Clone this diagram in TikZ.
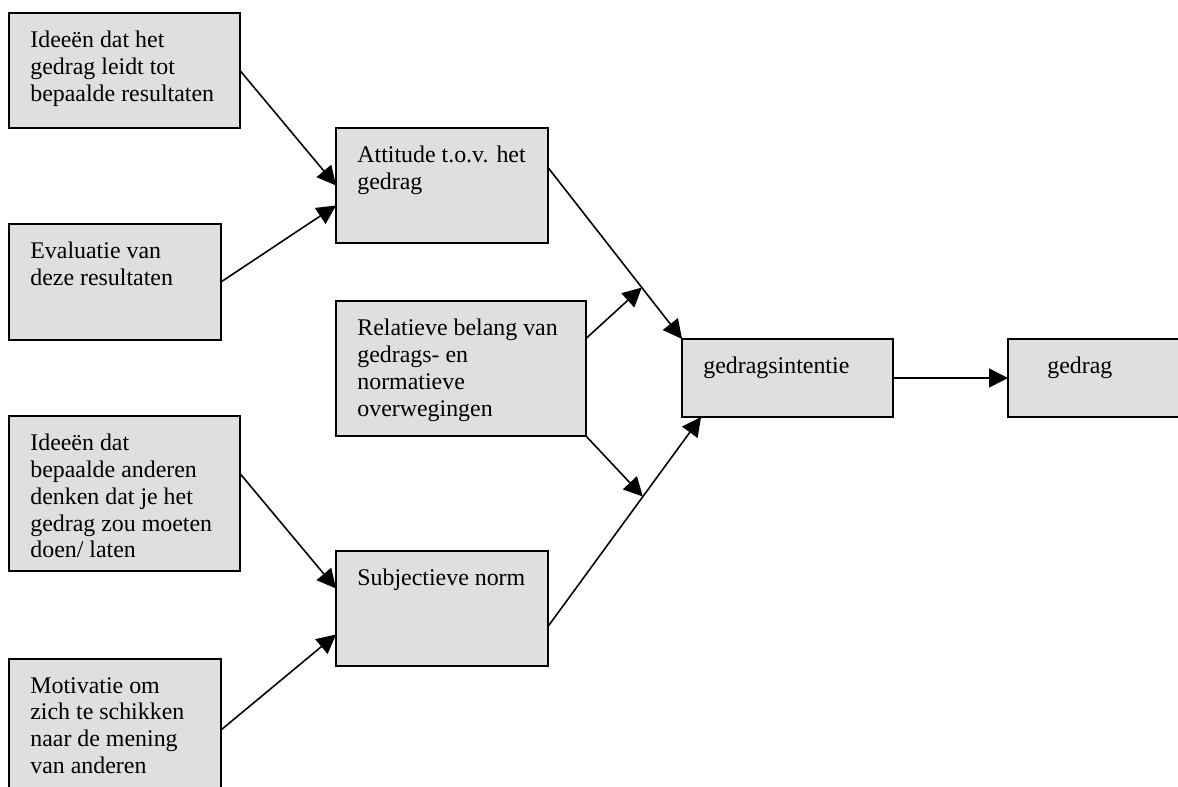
\documentclass[tikz,border=0pt]{standalone}
\usepackage{fontspec}
\setmainfont{Liberation Serif}
\usetikzlibrary{arrows.meta, positioning, calc}
\definecolor{boxgray}{RGB}{223,223,223}

\begin{document}
\begin{tikzpicture}[
    x=0.02cm, y=-0.02cm,
    box/.style={
        rectangle, draw=black, line width=1pt, fill=boxgray,
        inner sep=0pt, outer sep=0pt
    },
    txt/.style={
        anchor=north west, inner sep=0pt, align=left,
        xshift=0.42cm, yshift=-0.36cm,
        font=\fontsize{13.6}{15.2}\selectfont
    },
    arrow/.style={-{Triangle[length=0.38cm, width=0.38cm]}, line width=0.9pt}
]

\useasboundingbox (0,0) rectangle (1178,787);
\clip (0,0) rectangle (1178,787);

% --- Left column ---
\node[box, minimum width=4.62cm, minimum height=2.30cm,
    label={[txt]north west:{Ideeën dat het\\gedrag leidt tot\\bepaalde resultaten}}]
    (ideeres) at (124.5, 70.5) {};
\node[box, minimum width=4.24cm, minimum height=2.32cm,
    label={[txt]north west:{Evaluatie van\\deze resultaten}}]
    (evaluatie) at (115, 282) {};
\node[box, minimum width=4.62cm, minimum height=3.10cm,
    label={[txt]north west:{Ideeën dat\\bepaalde anderen\\denken dat je het\\gedrag zou moeten\\doen/ laten}}]
    (ideeanderen) at (124.5, 493.5) {};
\node[box, minimum width=4.24cm, minimum height=2.72cm,
    label={[txt]north west:{Motivatie om\\zich te schikken\\naar de mening\\van anderen}}]
    (motivatie) at (115, 727) {};

% --- Middle column ---
\node[box, minimum width=4.24cm, minimum height=2.30cm,
    label={[txt]north west:{Attitude t.o.v. het\\gedrag}}]
    (attitude) at (442, 185.5) {};
\node[box, minimum width=5.00cm, minimum height=2.70cm,
    label={[txt]north west:{Relatieve belang van\\gedrags- en\\normatieve\\overwegingen}}]
    (relbelang) at (461, 368.5) {};
\node[box, minimum width=4.24cm, minimum height=2.30cm,
    label={[txt]north west:{Subjectieve norm}}]
    (subjnorm) at (442, 608.5) {};

% --- Right side ---
\node[box, minimum width=4.22cm, minimum height=1.56cm,
    label={[txt]north west:{gedragsintentie}}]
    (intentie) at (787.5, 378) {};
\node[box, minimum width=3.54cm, minimum height=1.56cm,
    label={[txt, xshift=0.36cm]north west:{gedrag}}]
    (gedrag) at (1096.5, 378) {};

% --- Arrows into attitude and norm ---
\draw[arrow] (ideeres.east) -- (attitude.west);
\draw[arrow] (evaluatie.east) -- ($(attitude.west)+(0,20)$);
\draw[arrow] ($(ideeanderen.east)+(0,-20)$) -- ($(subjnorm.west)+(0,-20)$);
\draw[arrow] ($(motivatie.north east)+(0,71)$) -- ($(subjnorm.west)+(0,26)$);

% --- Arrows into intention ---
\coordinate (attout) at ($(attitude.east)+(0,-18)$);
\coordinate (subjout) at ($(subjnorm.east)+(0,18)$);
\coordinate (intin) at ($(intentie.south west)+(19,0)$);
\coordinate (upper) at ($(attout)!0.70!(intentie.north west)$);
\coordinate (lower) at ($(subjout)!0.62!(intin)$);
\draw[arrow] (attout) -- (intentie.north west);
\draw[arrow] (subjout) -- (intin);
\draw[arrow] ($(relbelang.east)+(0,-30)$) -- (upper);
\draw[arrow] (relbelang.south east) -- (lower);

% --- Intention to behaviour ---
\draw[arrow] (intentie.east) -- (gedrag.west);

\end{tikzpicture}
\end{document}
